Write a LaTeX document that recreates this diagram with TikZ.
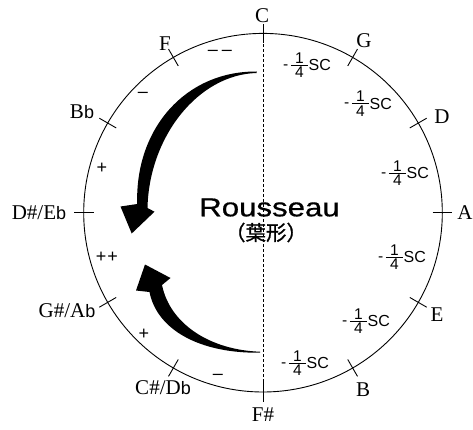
\documentclass[tikz,border=0pt]{standalone}
\usepackage{fontspec}
\setmainfont{Liberation Serif}
\setsansfont{Liberation Sans}
\newfontfamily\cjkfont[FakeBold=1]{Noto Sans CJK JP}
\newfontfamily\titlefont[FakeBold=0.6]{Liberation Sans}
\usepackage{graphicx}
\newcommand\flatb{{\sffamily\fontsize{18}{18}\selectfont b}}
\newcommand\qfrac{\raisebox{-7pt}{\vbox{\offinterlineskip\halign{\hbox to 17pt{\hfil##\hfil}\cr 1\cr\noalign{\kern1.5pt\hrule height0.8pt\kern1.5pt}4\cr}}}}
\newcommand\qsc{\raisebox{1.5pt}{-}\hspace{2.5pt}\qfrac\hspace{0.8pt}{\fontsize{16}{16}\selectfont SC}}
\begin{document}
\begin{tikzpicture}[x=1pt,y=-1pt,
  note/.style={font=\fontsize{21}{21}\selectfont, inner sep=0pt},
  sgn/.style={font=\sffamily\fontsize{18}{18}\selectfont, inner sep=0pt},
  fracl/.style={font=\sffamily\fontsize{15.5}{15.5}\selectfont, inner sep=0pt},
  ring/.style={line width=0.9pt},
  tickline/.style={line width=0.9pt},
  axisline/.style={line width=0.8pt, dash pattern=on 3pt off 2pt},
  swoosh/.style={fill=black}]
\useasboundingbox (0,0) rectangle (473,430);
\coordinate (O) at (263,212.7);
\draw[ring] (O) circle[radius=179.3pt];
\foreach \a in {0,30,...,330}
  \draw[tickline] ({263+169.5*sin(\a)},{212.7-169.5*cos(\a)}) -- ({263+189*sin(\a)},{212.7-189*cos(\a)});
\coordinate (top) at (263,34);
\coordinate (bot) at (263,392);
\draw[axisline] (top) -- (bot);
% note names
\node[note] (nC) at (262,15.5) {C};
\node[note] (nG) at (364,41) {G};
\node[note] (nD) at (442,117) {D};
\node[note] (nA) at (465,213) {A};
\node[note] (nE) at (437,315) {E};
\node[note] (nB) at (363,390) {B};
\node[note] (nFs) at (263,415) {F\#};
\node[note] (nCs) at (163,388) {C\#/D\flatb};
\node[note] (nGs) at (67,311) {G\#/A\flatb};
\node[note] (nDs) at (39,213) {D\#/E\flatb};
\node[note] (nBb) at (82,112) {B\flatb};
\node[note] (nF) at (165,44) {F};
% signs
\node[sgn] (m1) at (220,53) {–\hspace{4pt}–};
\node[sgn] (m2) at (143,95) {–};
\node[sgn] (m3) at (102,168) {+};
\node[sgn] (m4) at (107,257) {+\hspace{1pt}+};
\node[sgn] (m5) at (144,334) {+};
\node[sgn] (m6) at (218,377) {–};
% fraction labels
\node[fracl] (q1) at (307,65) {\qsc};
\node[fracl] (q2) at (368,103.5) {\qsc};
\node[fracl] (q3) at (405,173) {\qsc};
\node[fracl] (q4) at (402,257) {\qsc};
\node[fracl] (q5) at (366,321) {\qsc};
\node[fracl] (q6) at (305,363) {\qsc};
% title
\node[inner sep=0pt] (title) at (269.5,207.5) {\scalebox{1.2}[1]{\titlefont\fontsize{26}{26}\selectfont Rousseau}};
\node[inner sep=0pt, font=\cjkfont\fontsize{20.5}{20.5}\selectfont] (sub) at (266,232.5) {（葉形）};
% arrows
\fill[swoosh] (256.7,71.5) .. controls (186,71) and (135,128) .. (137.2,204)
  -- (120.5,206.5) -- (131.7,233.5) -- (154.5,211.7) -- (147.5,208)
  .. controls (149,137) and (198,74.5) .. (256.7,73) -- cycle;
\fill[swoosh] (260,352.7) .. controls (200,353.5) and (157,330) .. (149.5,292)
  -- (136,290.5) -- (145,264.5) -- (170.5,278) -- (162,285)
  .. controls (170,324) and (210,350) .. (260,351.7) -- cycle;
\end{tikzpicture}
\end{document}
